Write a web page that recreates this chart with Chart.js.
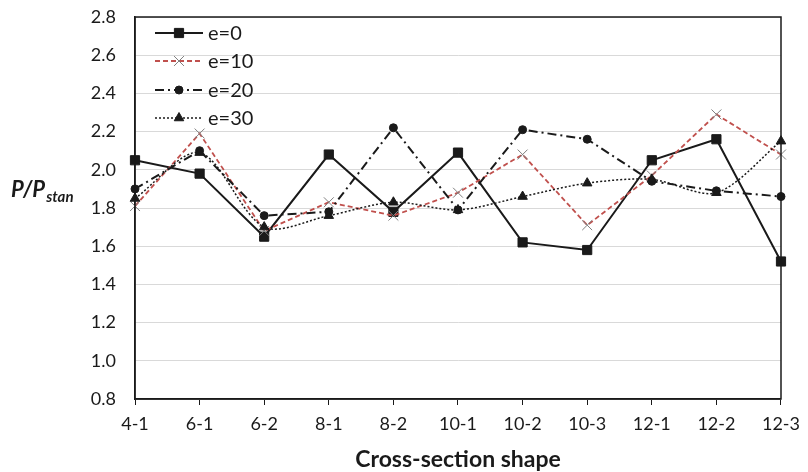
<!DOCTYPE html>
<html>
<head>
<meta charset="utf-8">
<script src="https://cdn.jsdelivr.net/npm/chart.js@4"></script>
<style>
  html, body { margin: 0; padding: 0; background: #fff; }
  #wrap { width: 808px; height: 472px; }
</style>
</head>
<body>
<div id="wrap"><canvas id="chartShape"></canvas></div>
<script>
// cross-section shapes and P/Pstan ratios for each eccentricity
const shapes = ['4-1', '6-1', '6-2', '8-1', '8-2', '10-1', '10-2', '10-3', '12-1', '12-2', '12-3'];
const e0  = [2.05, 1.98, 1.65, 2.08, 1.78, 2.09, 1.62, 1.58, 2.05, 2.16, 1.52];
const e10 = [1.81, 2.19, 1.68, 1.83, 1.76, 1.88, 2.08, 1.71, 1.97, 2.29, 2.08];
const e20 = [1.90, 2.10, 1.76, 1.78, 2.22, 1.79, 2.21, 2.16, 1.94, 1.89, 1.86];
const e30 = [1.85, 2.09, 1.70, 1.76, 1.83, 1.79, 1.86, 1.93, 1.95, 1.88, 2.15];
const seriesNames = ['e=0', 'e=10', 'e=20', 'e=30'];
const yMin = 0.8, yMax = 2.8, yStep = 0.2;

const FONT = "Lato, 'Open Sans', sans-serif";
const INK = '#1a1a1a';

// legend drawn inside the plot, top-left, with line sample + marker
const legendInside = {
   id: 'legendInside',
   afterDatasetsDraw(chart) {
      const ctx = chart.ctx;
      const rows = [33, 61, 90, 118];
      chart.data.datasets.forEach((ds, i) => {
         const y = rows[i];
         ctx.save();
         ctx.strokeStyle = ds.borderColor;
         ctx.lineWidth = ds.borderWidth;
         ctx.setLineDash(ds.borderDash || []);
         ctx.beginPath();
         ctx.moveTo(155, y);
         ctx.lineTo(203, y);
         ctx.stroke();
         ctx.setLineDash([]);
         ctx.fillStyle = ds.pointBackgroundColor;
         ctx.strokeStyle = ds.pointBorderColor;
         ctx.lineWidth = ds.pointBorderWidth;
         Chart.helpers.drawPoint(ctx, { pointStyle: ds.pointStyle, radius: ds.pointRadius, borderWidth: ds.pointBorderWidth, rotation: 0 }, 179, y);
         ctx.fillStyle = INK;
         ctx.font = `20px ${FONT}`;
         ctx.textBaseline = 'middle';
         ctx.fillText(ds.label, 208, y + 1);
         ctx.restore();
      });
   }
};

// frame around the plot area plus the two axis titles
const frameAndTitles = {
   id: 'frameAndTitles',
   afterDraw(chart) {
      const { ctx, chartArea: a } = chart;
      ctx.save();
      ctx.strokeStyle = INK;
      ctx.lineWidth = 1.5;
      ctx.strokeRect(a.left, a.top, a.right - a.left, a.bottom - a.top);

      ctx.fillStyle = INK;
      ctx.textBaseline = 'alphabetic';
      ctx.font = `bold 23px ${FONT}`;
      ctx.textAlign = 'center';
      ctx.fillText('Cross-section shape', (a.left + a.right) / 2, 467);

      ctx.textAlign = 'left';
      ctx.font = `italic bold 22px ${FONT}`;
      ctx.fillText('P/P', 11, 197);
      const w = ctx.measureText('P/P').width;
      ctx.font = `italic bold 15px ${FONT}`;
      ctx.fillText('stan', 11 + w + 1, 202);
      ctx.restore();
   }
};

const ctx = document.getElementById('chartShape').getContext('2d');
const chartShape = new Chart(ctx, {
   type: 'line',
   data: {
      labels: shapes,
      datasets: [{
         label: seriesNames[0],
         data: e0,
         borderColor: INK,
         borderWidth: 2,
         pointStyle: 'rect',
         pointRadius: 6.5,
         pointBackgroundColor: INK,
         pointBorderColor: INK,
         pointBorderWidth: 1,
         tension: 0,
         order: 3,
      }, {
         label: seriesNames[1],
         data: e10,
         borderColor: '#C0504D',
         borderWidth: 1.8,
         borderDash: [5, 3],
         pointStyle: 'crossRot',
         pointRadius: 7,
         pointBackgroundColor: '#7F7F7F',
         pointBorderColor: '#7F7F7F',
         pointBorderWidth: 1,
         tension: 0,
         order: 2,
      }, {
         label: seriesNames[2],
         data: e20,
         borderColor: INK,
         borderWidth: 2,
         borderDash: [9, 4, 2, 4],
         pointStyle: 'circle',
         pointRadius: 4,
         pointBackgroundColor: INK,
         pointBorderColor: INK,
         pointBorderWidth: 1,
         tension: 0,
         order: 1,
      }, {
         label: seriesNames[3],
         data: e30,
         borderColor: INK,
         borderWidth: 1.5,
         borderDash: [2, 2],
         pointStyle: 'triangle',
         pointRadius: 5.5,
         pointBackgroundColor: INK,
         pointBorderColor: INK,
         pointBorderWidth: 1,
         tension: 0.3,
         order: 0,
      }]
   },
   options: {
      responsive: true,
      maintainAspectRatio: false,
      animation: false,
      layout: { padding: { top: 17, right: 24, left: 0, bottom: 0 } },
      scales: {
         x: {
            offset: false,
            afterFit: s => { s.height = 73; },
            grid: { drawOnChartArea: false, drawTicks: true, tickLength: 6, color: INK, lineWidth: 1 },
            border: { color: INK, width: 1.5 },
            ticks: { color: INK, padding: 8, font: { family: FONT, size: 18 }, maxRotation: 0, autoSkip: false },
         },
         y: {
            min: yMin,
            max: yMax,
            afterFit: s => { s.width = 135; s.paddingTop = 0; s.paddingBottom = 0; },
            grid: { color: '#D9D9D9', lineWidth: 1, drawTicks: false },
            border: { color: INK, width: 1.5 },
            ticks: {
               stepSize: yStep,
               color: INK,
               padding: 19,
               font: { family: FONT, size: 18 },
               callback: v => Number(v).toFixed(1),
            }
         }
      },
      plugins: {
         legend: { display: false },
         tooltip: { enabled: false },
      }
   },
   plugins: [legendInside, frameAndTitles]
});
</script>
</body>
</html>
